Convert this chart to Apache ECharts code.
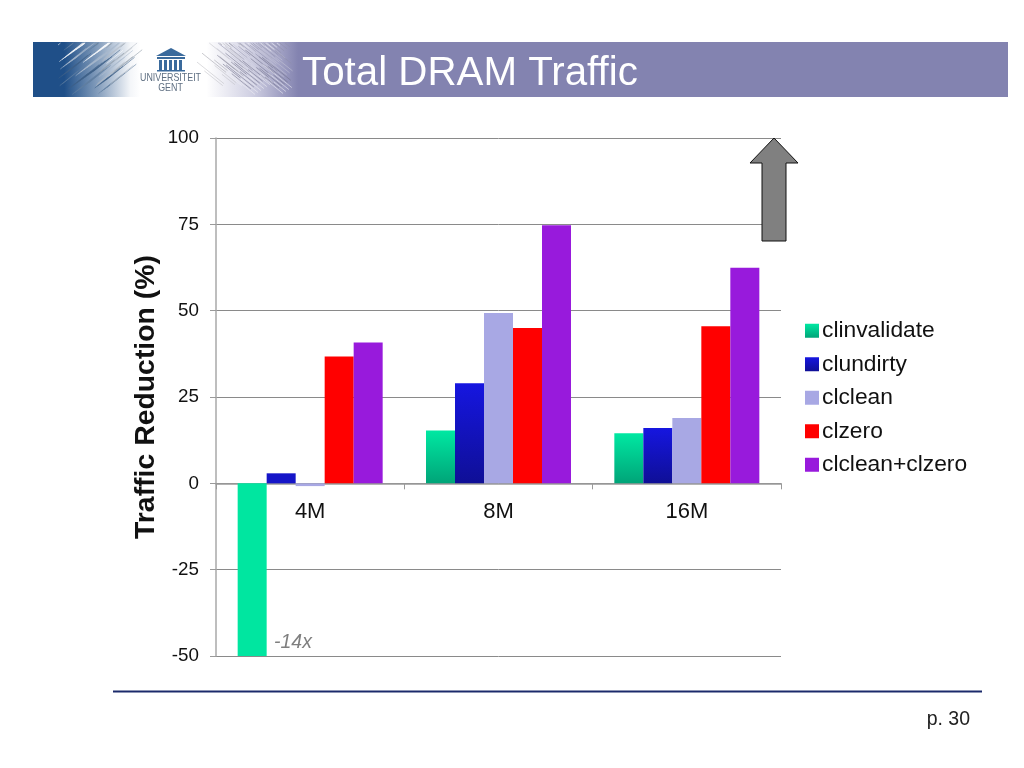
<!DOCTYPE html>
<html><head><meta charset="utf-8">
<style>html,body{margin:0;padding:0;background:#fff}#c{width:1024px;height:768px}</style>
<script src="https://cdn.jsdelivr.net/npm/echarts@6/dist/echarts.min.js"></script>
</head><body><div id="c"></div>
<script>
var categories = ['4M', '8M', '16M'];
var clinvalidate = [-1400, 15.3, 14.5];
var clundirty = [2.9, 29, 16];
var clclean = [-0.8, 49.3, 18.9];
var clzero = [36.7, 45, 45.5];
var combined = [40.8, 74.7, 62.4];
var names = ['clinvalidate', 'clundirty', 'clclean', 'clzero', 'clclean+clzero'];

var FONT = '"Liberation Sans", Arial, sans-serif';
var chart = echarts.init(document.getElementById('c'));
function grad(a, b) {
  return new echarts.graphic.LinearGradient(0, 0, 0, 1, [{offset: 0, color: a}, {offset: 1, color: b}]);
}
function bar(name, values, color, first) {
  return {
    name: name, type: 'bar', barWidth: 29, barGap: 0, clip: true,
    itemStyle: {color: color},
    data: values.map(function (v, i) {
      return (i === 0 && first) ? {value: v, itemStyle: {color: first}} : v;
    })
  };
}

// Decorative header art
var art = [];
art.push({type: 'rect', shape: {x: 33, y: 42, width: 975, height: 55},
  style: {fill: new echarts.graphic.LinearGradient(0, 0, 1, 0, [
    {offset: 0, color: '#1F4F88'}, {offset: 0.032, color: '#1F4F88'},
    {offset: 0.07, color: '#8FA6C2'}, {offset: 0.1, color: '#F4F6F9'}, {offset: 0.11, color: '#FFFFFF'},
    {offset: 0.178, color: '#FFFFFF'}, {offset: 0.225, color: '#CFCFE2'},
    {offset: 0.272, color: '#8383B0'}, {offset: 1, color: '#8383B0'}])}});
function strokes(x0, x1, dir, count, colors) {
  for (var i = 0; i < count; i++) {
    var t = (i * 0.618034) % 1, u = (i * 0.754878) % 1, w = (i * 0.569840) % 1;
    var x = x0 + (x1 - x0) * t, y = 45 + 50 * u, len = 14 + 26 * w;
    var dx = dir * len * 0.75, dy = -len * 0.6;
    var y2 = Math.max(43, Math.min(96, y + dy));
    art.push({type: 'line', silent: true,
      shape: {x1: x, y1: y, x2: x + dx * (y2 - y) / dy, y2: y2},
      style: {stroke: colors[i % colors.length], lineWidth: 0.8, opacity: 0.7}});
  }
}
strokes(58, 108, 1, 80, ['#FFFFFF', '#5F7E9F', '#3D5F86', '#A9B9CC']);
strokes(95, 122, 1, 16, ['#8B96A3', '#B4BBC4']);
strokes(240, 293, -1, 80, ['#8D8DA8', '#F0F0F6', '#6F6F88', '#C4C4D6']);
strokes(222, 245, -1, 14, ['#A0A0A8', '#C0C0C6']);
// University logo
art.push({type: 'polygon', shape: {points: [[156, 56], [171, 48], [186, 56]]}, style: {fill: '#3A6A9C'}});
art.push({type: 'rect', shape: {x: 157, y: 57, width: 28, height: 2}, style: {fill: '#3A6A9C'}});
[159, 164, 169, 174, 179].forEach(function (x) {
  art.push({type: 'rect', shape: {x: x, y: 60, width: 3, height: 10}, style: {fill: '#3A6A9C'}});
});
art.push({type: 'rect', shape: {x: 157, y: 70, width: 28, height: 1.5}, style: {fill: '#3A6A9C'}});
art.push({type: 'text', x: 170.5, y: 77.5, scaleX: 0.77, style: {x: 0, y: 0, text: 'UNIVERSITEIT', fill: '#5F6F82', font: '11.5px ' + FONT, align: 'center', verticalAlign: 'middle'}});
art.push({type: 'text', x: 170.5, y: 88, scaleX: 0.77, style: {x: 0, y: 0, text: 'GENT', fill: '#5F6F82', font: '11.5px ' + FONT, align: 'center', verticalAlign: 'middle'}});
// Title
art.push({type: 'text', style: {x: 302, y: 74, text: 'Total DRAM Traffic', fill: '#FFFFFF', font: '40.3px ' + FONT, align: 'left', verticalAlign: 'middle'}});
// Arrow
art.push({type: 'polygon', z: 10, shape: {points: [[774, 138], [750, 163], [762, 163], [762, 241], [786, 241], [786, 163], [798, 163]]},
  style: {fill: '#808080', stroke: '#111111', lineWidth: 1}});
// Annotation
art.push({type: 'text', z: 10, style: {x: 274, y: 642.5, text: '-14x', fill: '#7F7F7F', font: 'italic 19.5px ' + FONT, align: 'left', verticalAlign: 'middle'}});
// Footer
art.push({type: 'line', shape: {x1: 113, y1: 691.5, x2: 982, y2: 691.5}, style: {stroke: '#1B2A6B', lineWidth: 2}});
art.push({type: 'text', style: {x: 970, y: 719.5, text: 'p. 30', fill: '#222222', font: '19.5px ' + FONT, align: 'right', verticalAlign: 'middle'}});

chart.setOption({
  animation: false,
  backgroundColor: '#fff',
  textStyle: {fontFamily: FONT},
  grid: {left: 216, top: 138, width: 565, height: 518, containLabel: false},
  legend: {
    left: 805, top: 319, padding: 0, orient: 'vertical', itemWidth: 14, itemHeight: 14, itemGap: 10, icon: 'rect',
    data: names, textStyle: {fontSize: 22.8, color: '#111', fontFamily: FONT, padding: [0, 0, 0, -2], lineHeight: 23.5}
  },
  xAxis: {
    type: 'category', data: categories, position: 'bottom', offset: -172.67,
    axisLine: {onZero: false, lineStyle: {color: '#9A9A9A', width: 1.5}},
    axisTick: {show: true, length: 6, alignWithLabel: false, lineStyle: {color: '#9A9A9A'}},
    axisLabel: {color: '#111', fontSize: 22, margin: 18, fontFamily: FONT},
    splitLine: {show: false}
  },
  yAxis: {
    type: 'value', min: -50, max: 100, interval: 25,
    name: 'Traffic Reduction (%)', nameLocation: 'middle', nameGap: 56, nameRotate: 90, nameMoveOverlap: false,
    nameTextStyle: {fontSize: 28.4, fontWeight: 'bold', color: '#111', fontFamily: FONT},
    axisLine: {show: true, onZero: false, lineStyle: {color: '#A8A8A8', width: 1.5}},
    axisTick: {show: true, length: 6, lineStyle: {color: '#9A9A9A'}},
    axisLabel: {color: '#111', fontSize: 18.8, margin: 17, fontFamily: FONT},
    splitLine: {show: true, lineStyle: {color: '#8A8A8A', width: 1}}
  },
  series: [
    bar(names[0], clinvalidate, grad('#00E8A2', '#00A478'), '#00E6A0'),
    bar(names[1], clundirty, grad('#1616E0', '#0F0F96'), '#1515C8'),
    bar(names[2], clclean, '#A8A8E4'),
    bar(names[3], clzero, '#FF0000'),
    bar(names[4], combined, '#981ADC')
  ],
  graphic: art
});
</script></body></html>
